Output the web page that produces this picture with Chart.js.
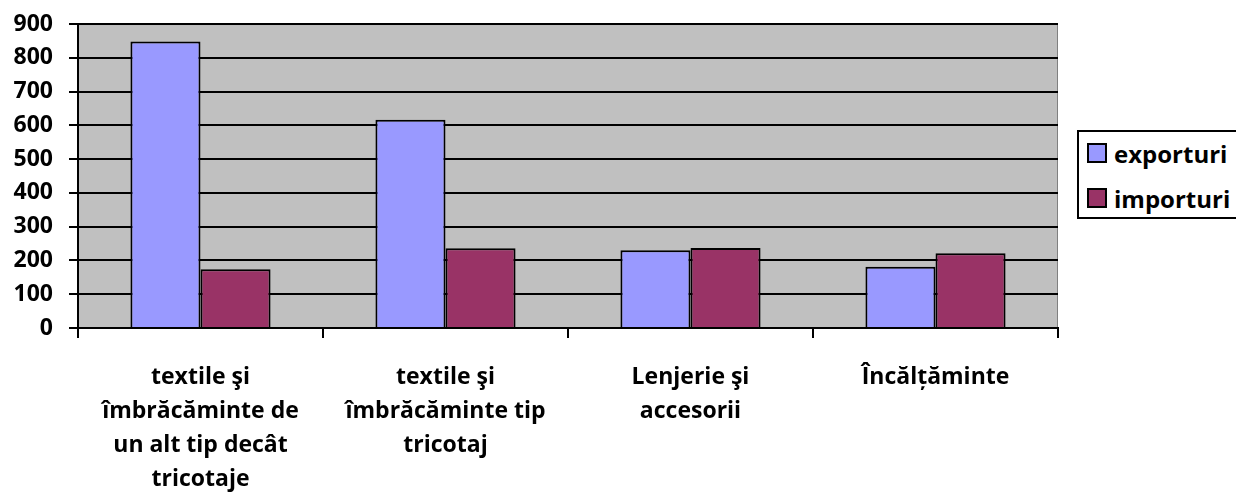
<!DOCTYPE html>
<html>
<head>
<meta charset="utf-8">
<script src="https://cdn.jsdelivr.net/npm/chart.js@4.4.0/dist/chart.umd.min.js"></script>
<style>
  html, body { margin: 0; padding: 0; background: #fff; }
  #wrap { position: relative; width: 1236px; height: 504px; overflow: hidden; }
  #legend { position: absolute; left: 1077px; top: 130px; width: 170px; height: 85px;
    border: 2px solid #000; background: #fff; font-family: "Open Sans", sans-serif;
    font-weight: bold; font-size: 24px; color: #000; }
  .item { position: absolute; left: 8px; height: 22px; display: flex; align-items: center; }
  .sw { width: 16px; height: 16px; border: 2px solid #000; margin-right: 7px; flex: none; }
</style>
</head>
<body>
<div id="wrap">
  <canvas id="c" width="1236" height="504"></canvas>
  <div id="legend"></div>
</div>
<script>
const categories = [
  ["textile şi", "îmbrăcăminte de", "un alt tip decât", "tricotaje"],
  ["textile şi", "îmbrăcăminte tip", "tricotaj"],
  ["Lenjerie şi", "accesorii"],
  ["Încălțăminte"]
];
const exporturi = [848, 617, 230, 181];
const importuri = [174, 236, 237, 221];
const seriesNames = ["exporturi", "importuri"];
const seriesColors = ["#9999FF", "#993366"];
const yTicks = [0, 100, 200, 300, 400, 500, 600, 700, 800, 900];

const plotBg = {
  id: 'plotBg',
  beforeDraw(chart) {
    const {ctx, chartArea: a} = chart;
    ctx.save();
    ctx.fillStyle = '#C0C0C0';
    ctx.fillRect(a.left, a.top, a.right - a.left, a.bottom - a.top);
    ctx.strokeStyle = '#808080';
    ctx.lineWidth = 1;
    ctx.strokeRect(a.left + 0.5, a.top + 0.5, a.right - a.left - 1, a.bottom - a.top - 1);
    ctx.restore();
  }
};

const font = { family: '"Open Sans", sans-serif', weight: 'bold', size: 23 };

new Chart(document.getElementById('c'), {
  type: 'bar',
  data: {
    labels: categories,
    datasets: [
      { label: seriesNames[0], data: exporturi, backgroundColor: seriesColors[0], borderColor: '#000', borderWidth: 2 },
      { label: seriesNames[1], data: importuri, backgroundColor: seriesColors[1], borderColor: '#000', borderWidth: 2 }
    ]
  },
  options: {
    responsive: false,
    animation: false,
    devicePixelRatio: 1,
    layout: { padding: { top: 10, right: 178, left: 0, bottom: 0 } },
    datasets: { bar: { barPercentage: 1, categoryPercentage: 0.572 } },
    plugins: { legend: { display: false }, tooltip: { enabled: false } },
    scales: {
      x: {
        offset: true,
        grid: { offset: true, drawOnChartArea: false, drawTicks: true, tickLength: 10, color: '#000', lineWidth: 2 },
        border: { color: '#000', width: 2 },
        ticks: { color: '#000', font: { ...font, lineHeight: 1.48 }, padding: 22, maxRotation: 0, autoSkip: false },
        afterFit(s) { s.height = 176; }
      },
      y: {
        min: 0, max: 900,
        afterBuildTicks(s) { s.ticks = yTicks.map(v => ({ value: v })); },
        grid: { color: '#000', lineWidth: 2, tickLength: 9, drawTicks: true },
        border: { color: '#000', width: 2 },
        ticks: { color: '#000', font: { ...font, lineHeight: 0.7 }, padding: 16 },
        afterFit(s) { s.width = 78; }
      }
    }
  },
  plugins: [plotBg]
});

const lg = document.getElementById('legend');
seriesNames.forEach((n, i) => {
  const d = document.createElement('div');
  d.className = 'item';
  d.style.top = (i === 0 ? 10 : 55) + 'px';
  d.innerHTML = '<div class="sw" style="background:' + seriesColors[i] + '"></div><span>' + n + '</span>';
  lg.appendChild(d);
});
</script>
</body>
</html>
